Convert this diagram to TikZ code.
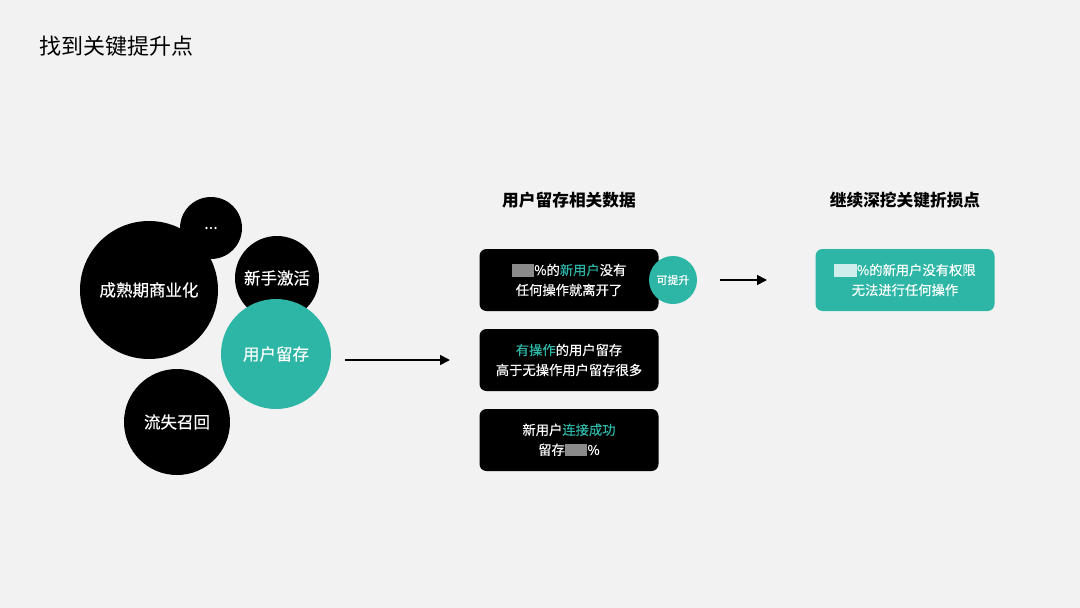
\documentclass[tikz,border=0pt]{standalone}
\usepackage{fontspec}
\setmainfont{Noto Sans CJK SC}
\newfontfamily\medfont[FakeBold=0.4]{Noto Sans CJK SC}
\usetikzlibrary{arrows.meta}
\definecolor{bggray}{HTML}{F2F2F2}
\definecolor{teal}{HTML}{2DB5A6}
\definecolor{blurdark}{HTML}{8A8A8A}
\definecolor{blurlight}{HTML}{CFEDEA}
\newcommand{\blurmark}[1]{{\color{#1}\rule[-0.12em]{1.7em}{0.95em}}}
\newcommand{\hl}[1]{{\color{teal}#1}}
\begin{document}
\begin{tikzpicture}[
x=1pt,y=-1pt,
bubble/.style={circle,fill=black,text=white,inner sep=0pt,font=\fontsize{16.5}{19}\medfont},
card/.style={rounded corners=7pt,fill=black,text=white,minimum width=179pt,minimum height=62pt,
  align=center,font=\fontsize{13.3}{20}\medfont},
heading/.style={font=\fontsize{16.7}{20}\selectfont\bfseries},
flow/.style={line width=1.6pt,-{Triangle[length=10pt,width=10pt]}}
]
\fill[bggray] (0,0) rectangle (1080,608);
\useasboundingbox (0,0) rectangle (1080,608);
% title
\node[anchor=west,font=\fontsize{22}{25}\selectfont] (title) at (36,46) {找到关键提升点};
% bubbles
\node[bubble,minimum size=138pt] (mature) at (149,290) {成熟期商业化};
\node[bubble,minimum size=62pt] (more) at (211,228) {...};
\node[bubble,minimum size=84pt] (activate) at (277,278) {新手激活};
\node[bubble,fill=teal,minimum size=110pt] (retain) at (276,354) {用户留存};
\node[bubble,minimum size=106pt] (recall) at (177,422) {流失召回};
% data column
\node[heading] (dataHead) at (569,200) {用户留存相关数据};
\node[card] (noop) at (569,280) {\blurmark{blurdark}\%的\hl{新用户}没有\\任何操作就离开了};
\node[card] (withop) at (569,360) {\hl{有操作}的用户留存\\高于无操作用户留存很多};
\node[card] (connect) at (569,440) {新用户\hl{连接成功}\\留存\blurmark{blurdark}\%};
\node[circle,fill=teal,text=white,minimum size=48pt,inner sep=0pt,font=\fontsize{11}{13}\medfont] (lift) at (673,280) {可提升};
% next column
\node[heading] (digHead) at (905,200) {继续深挖关键折损点};
\node[card,fill=teal] (noperm) at (905,280) {\blurmark{blurlight}\%的新用户没有权限\\无法进行任何操作};
% arrows
\coordinate (a1) at (345,360);
\coordinate (b1) at (450,360);
\coordinate (a2) at (720,280);
\coordinate (b2) at (767,280);
\draw[flow] (a1) -- (b1);
\draw[flow] (a2) -- (b2);
\end{tikzpicture}
\end{document}
